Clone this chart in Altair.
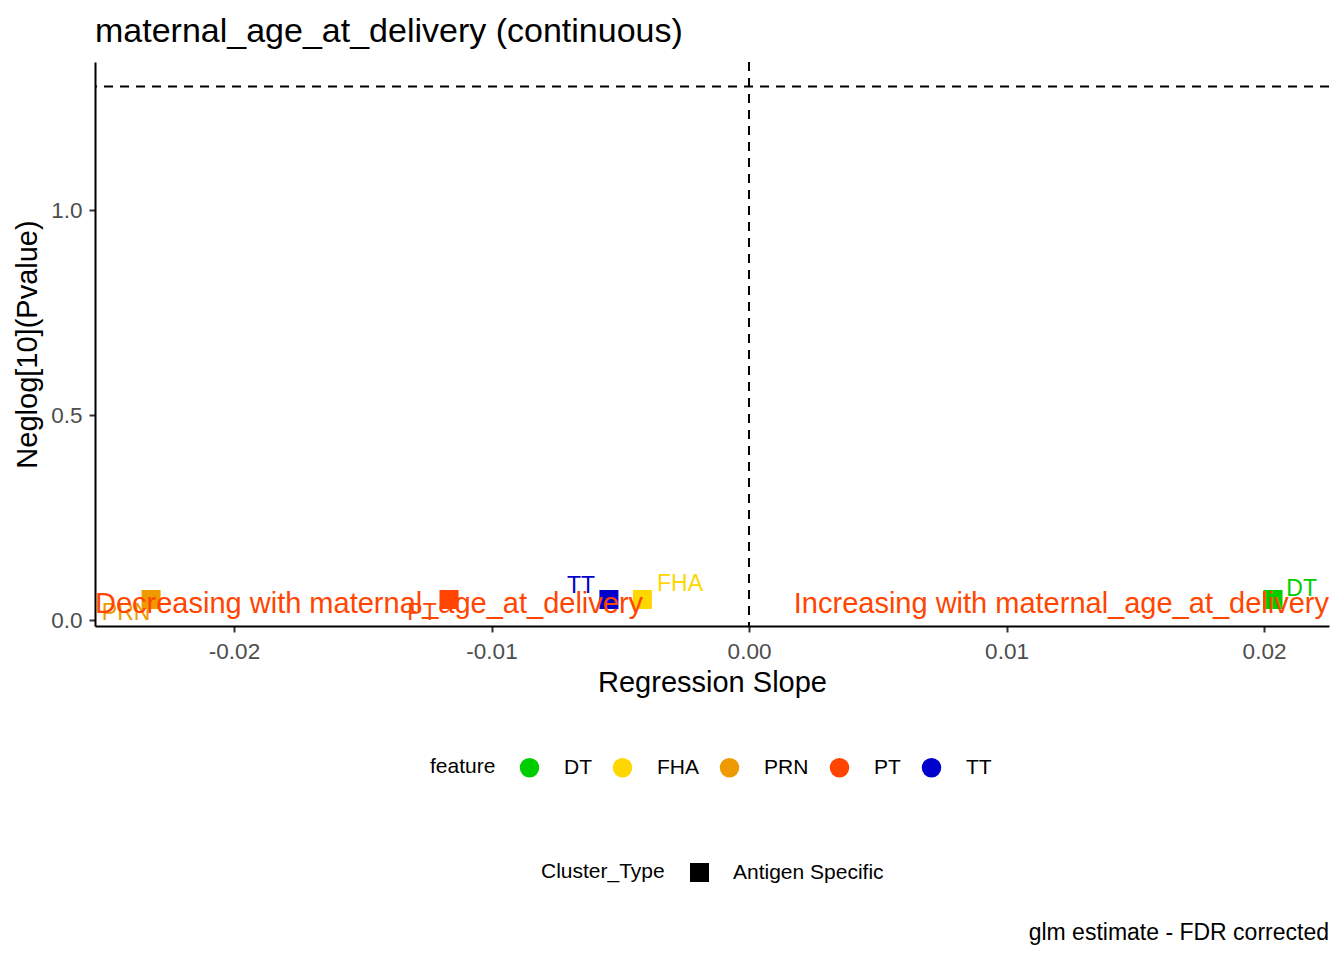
import altair as alt
import pandas as pd

# dados
features = ["DT", "FHA", "PRN", "PT", "TT"]
cores = ["#00CD00", "#FFD700", "#EE9A00", "#FF4500", "#0000CD"]
slope = [0.02035, -0.00414, -0.02322, -0.01165, -0.00544]
neglog_p = [0.05, 0.05, 0.05, 0.05, 0.05]
cluster_type = ["Antigen Specific"] * 5

# posições dos rótulos (estilo ggrepel), em unidades dos dados
label_x = [0.02146, -0.00268, -0.02419, -0.0127, -0.00652]
label_y = [0.076, 0.087, 0.016, 0.016, 0.083]

x_ticks = [-0.02, -0.01, 0.0, 0.01, 0.02]
y_ticks = [0.0, 0.5, 1.0]
x_domain = [-0.025398, 0.022524]
y_domain = [-0.0146, 1.361]

limiar = [1.30103]  # -log10(0.05)
zero_x = [0.0]

texto_dec = "Decreasing with maternal_age_at_delivery"
texto_inc = "Increasing with maternal_age_at_delivery"
annot_y = [0.038]
titulo = "maternal_age_at_delivery (continuous)"
legenda_rodape = "glm estimate - FDR corrected"

W, H = 1234, 564
fonte = "Liberation Sans"

df = pd.DataFrame({
    "feature": features,
    "slope": slope,
    "neglog": neglog_p,
    "Cluster_Type": cluster_type,
    "lx": label_x,
    "ly": label_y,
})

escala_x = alt.Scale(domain=x_domain, nice=False, zero=False)
escala_y = alt.Scale(domain=y_domain, nice=False, zero=False)

eixo_x = alt.Axis(
    values=x_ticks,
    labelExpr="datum.value < 0 ? '-' + format(-datum.value, '.2f') : format(datum.value, '.2f')",
    title="Regression Slope",
)
eixo_y = alt.Axis(values=y_ticks, format=".1f", title="Neglog[10](Pvalue)")

cor = alt.Color(
    "feature:N",
    scale=alt.Scale(domain=features, range=cores),
    legend=alt.Legend(
        orient="none", direction="horizontal", titleOrient="left",
        legendX=335, legendY=695, symbolType="circle", symbolSize=380,
        labelOffset=24, columnPadding=20, titlePadding=23, padding=0,
    ),
)

# linhas tracejadas
hline = alt.Chart(pd.DataFrame({"y": limiar})).mark_rule(
    color="black", strokeDash=[9, 7], strokeWidth=2
).encode(y=alt.Y("y:Q", scale=escala_y, axis=eixo_y))

vline = alt.Chart(pd.DataFrame({"x": zero_x})).mark_rule(
    color="black", strokeDash=[9, 7], strokeWidth=2
).encode(x=alt.X("x:Q", scale=escala_x, axis=eixo_x))

pontos = alt.Chart(df).mark_point(filled=True, size=361, opacity=1).encode(
    x=alt.X("slope:Q", scale=escala_x, axis=eixo_x),
    y=alt.Y("neglog:Q", scale=escala_y, axis=eixo_y),
    color=cor,
    shape=alt.Shape(
        "Cluster_Type:N",
        scale=alt.Scale(domain=["Antigen Specific"], range=["square"]),
        legend=alt.Legend(
            orient="none", direction="horizontal", titleOrient="left",
            legendX=446, legendY=800, symbolSize=361, symbolFillColor="black",
            symbolStrokeWidth=0, labelOffset=23, titlePadding=24, padding=0,
        ),
    ),
)

rotulos = alt.Chart(df).mark_text(fontSize=23, baseline="middle", align="center").encode(
    x=alt.X("lx:Q", scale=escala_x),
    y=alt.Y("ly:Q", scale=escala_y),
    text="feature:N",
    color=cor,
)

dec = alt.Chart(pd.DataFrame({"y": annot_y, "t": [texto_dec]})).mark_text(
    fontSize=29, align="left", baseline="middle", color="#FF4500"
).encode(x=alt.value(0), y=alt.Y("y:Q", scale=escala_y), text="t:N")

inc = alt.Chart(pd.DataFrame({"y": annot_y, "t": [texto_inc]})).mark_text(
    fontSize=29, align="right", baseline="middle", color="#FF4500"
).encode(x=alt.value(W), y=alt.Y("y:Q", scale=escala_y), text="t:N")

rodape = alt.Chart(pd.DataFrame({"t": [legenda_rodape]})).mark_text(
    fontSize=23, align="right", baseline="middle", color="black"
).encode(x=alt.value(W), y=alt.value(871), text="t:N")

chart = alt.layer(hline, vline, pontos, rotulos, dec, inc, rodape).properties(
    width=W,
    height=H,
    title=alt.TitleParams(
        titulo, anchor="start", fontSize=34, fontWeight="normal",
        offset=12, color="black", frame="group",
    ),
    autosize=alt.AutoSizeParams(type="none"),
    padding={"left": 87, "top": 54, "right": 7, "bottom": 320},
)

chart = chart.configure(font=fonte, background="white").configure_view(
    stroke=None
).configure_axis(
    grid=False,
    domainColor="black",
    domainWidth=2,
    tickColor="#333333",
    tickWidth=2,
    tickSize=6,
    labelColor="#4D4D4D",
    labelFontSize=22.5,
    labelPadding=8,
    titleColor="black",
    titleFontSize=29,
    titleFontWeight="normal",
    titlePadding=6,
    labelFlush=False,
).configure_axisY(labelPadding=7, titlePadding=8).configure_legend(
    labelFontSize=21, titleFontSize=21, titleFontWeight="normal",
    labelColor="black", titleColor="black",
)

chart.save("out.html", embed_options={"renderer": "svg", "actions": False})
